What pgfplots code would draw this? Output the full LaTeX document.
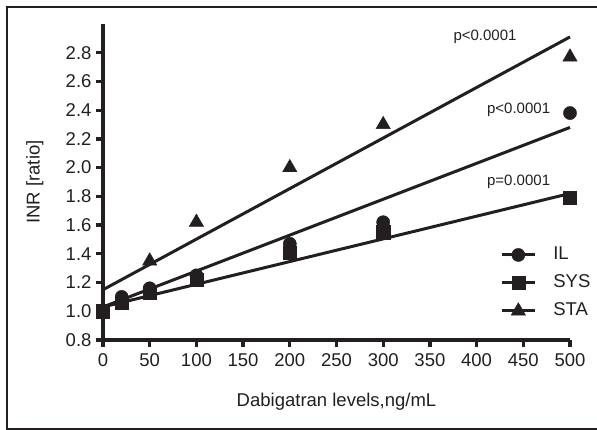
\documentclass[border=0pt]{standalone}
\usepackage{fontspec}
\setmainfont{Liberation Sans}
\usepackage{pgfplots}
\pgfplotsset{compat=1.18}
\definecolor{ink}{RGB}{35,31,32}
\newcommand{\tickfont}{\fontsize{18.5}{22}\selectfont}
\begin{document}
\begin{tikzpicture}
\useasboundingbox (0pt,0pt) rectangle (597pt,430pt);
\draw[ink, line width=2pt] (600pt,423pt) -- (7pt,423pt) -- (7pt,1pt) -- (600pt,1pt);
\begin{axis}[
    at={(103pt,90pt)}, anchor=south west,
    scale only axis, width=467pt, height=316pt,
    xmin=0, xmax=500, ymin=0.8, ymax=3.0,
    axis lines=left,
    axis line style={-, line width=3.8pt, ink},
    xtick={0,50,...,500},
    ytick={0.8,1.0,...,2.8},
    xticklabel={\pgfmathprintnumber[assume math mode=true]{\tick}},
    yticklabel={\pgfmathprintnumber[assume math mode=true,fixed,fixed zerofill,precision=1]{\tick}},
    tick align=outside, major tick length=7pt,
    tick style={line width=3.2pt, ink},
    xticklabel style={font=\tickfont, text=ink, yshift=-3pt},
    yticklabel style={font=\tickfont, text=ink, xshift=-1pt},
    xlabel={Dabigatran levels,ng/mL},
    ylabel={INR [ratio]},
    label style={font=\fontsize{18.5}{22}\selectfont, text=ink},
    xlabel style={at={(axis description cs:0.5,-0.196)}, anchor=center},
    ylabel style={at={(axis description cs:-0.146,0.5)}, anchor=center},
    legend style={at={(axis cs:422,1.47)}, anchor=north west, draw=none, fill=none,
        font=\fontsize{18.5}{22}\selectfont, text=ink, row sep=10pt,
        nodes={inner sep=1pt, text height=13pt, text depth=3pt},
        /tikz/every odd column/.append style={column sep=16pt}},
    legend cell align=left,
    legend image code/.code={
        \draw[line width=3pt, ink] (0pt,0pt) -- (33pt,0pt);
        \draw[#1] plot coordinates {(16.5pt,0pt)};
    },
    clip=false,
]
% data points
\addplot[only marks, mark=*, mark size=6.6pt, ink, mark options={fill=ink, draw=ink}]
    coordinates {(0,1.00) (20,1.10) (50,1.16) (100,1.25) (200,1.43) (200,1.47) (300,1.58) (300,1.62) (500,2.38)};
\addlegendentry{IL}
\addplot[only marks, mark=square*, mark size=6.6pt, ink, mark options={fill=ink, draw=ink}]
    coordinates {(0,1.00) (20,1.06) (50,1.13) (100,1.22) (200,1.41) (300,1.55) (500,1.79)};
\addlegendentry{SYS}
\addplot[only marks, mark=triangle*, mark size=8.3pt, ink, mark options={fill=ink, draw=ink}]
    coordinates {(50,1.35) (100,1.62) (200,2.00) (300,2.30) (500,2.77)};
\addlegendentry{STA}
% regression lines
\addplot[forget plot, no marks, line width=3pt, ink] coordinates {(0,1.15) (500,2.91)};
\addplot[forget plot, no marks, line width=3pt, ink] coordinates {(0,1.03) (500,2.28)};
\addplot[forget plot, no marks, line width=3pt, ink] coordinates {(0,1.03) (500,1.82)};
% p values
\node[font=\fontsize{15}{18}\selectfont, text=ink] at (axis cs:409,2.91) {p<0.0001};
\node[font=\fontsize{15}{18}\selectfont, text=ink] at (axis cs:445,2.40) {p<0.0001};
\node[font=\fontsize{15}{18}\selectfont, text=ink] at (axis cs:445,1.90) {p=0.0001};
\end{axis}
\end{tikzpicture}
\end{document}
